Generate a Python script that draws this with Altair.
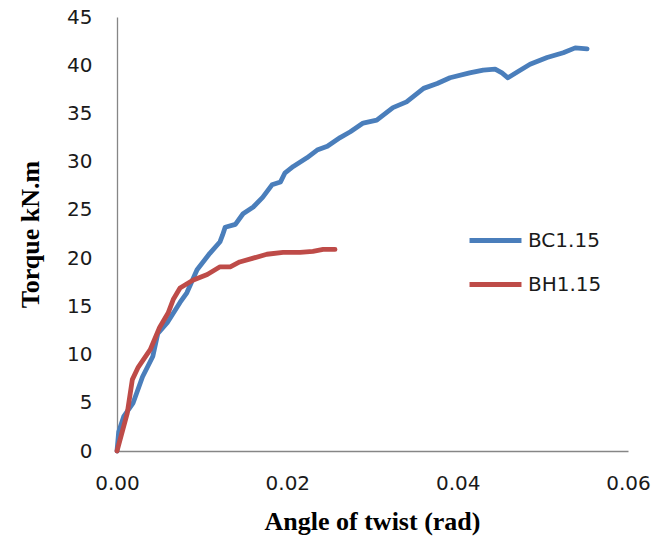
import altair as alt
import pandas as pd

# BC1.15 series (angle of twist in rad, torque in kN.m)
bc_x = [0.0, 0.0002, 0.0008, 0.0019, 0.0030, 0.0042, 0.0048, 0.0059, 0.0074, 0.0082,
        0.0094, 0.0109, 0.0121, 0.0124, 0.0127, 0.0139, 0.0148, 0.0160, 0.0171, 0.0182,
        0.0192, 0.0197, 0.0207, 0.0223, 0.0235, 0.0247, 0.0262, 0.0274, 0.0289, 0.0305,
        0.0324, 0.0340, 0.0360, 0.0376, 0.0391, 0.0414, 0.0430, 0.0444, 0.0452, 0.0459,
        0.0470, 0.0485, 0.0505, 0.0524, 0.0538, 0.0552]
bc_y = [0.0, 2.0, 3.6, 5.0, 7.7, 9.8, 12.2, 13.3, 15.4, 16.4,
        18.8, 20.5, 21.7, 22.4, 23.2, 23.5, 24.6, 25.3, 26.3, 27.6,
        27.9, 28.8, 29.5, 30.4, 31.2, 31.6, 32.5, 33.1, 34.0, 34.3,
        35.6, 36.2, 37.6, 38.1, 38.7, 39.2, 39.5, 39.6, 39.2, 38.7,
        39.3, 40.1, 40.8, 41.3, 41.8, 41.7]

# BH1.15 series
bh_x = [0.0, 0.0012, 0.0018, 0.0025, 0.0039, 0.0050, 0.0060, 0.0066, 0.0074, 0.0089,
        0.0106, 0.0121, 0.0133, 0.0144, 0.0160, 0.0176, 0.0195, 0.0215, 0.0230, 0.0242,
        0.0256]
bh_y = [0.0, 3.9, 7.4, 8.7, 10.5, 12.8, 14.3, 15.7, 16.9, 17.7,
        18.3, 19.1, 19.1, 19.6, 20.0, 20.4, 20.6, 20.6, 20.7, 20.9,
        20.9]

series_names = ["BC1.15", "BH1.15"]
series_colors = ["#4A7EBB", "#BE4B48"]

x_ticks = [0.0, 0.02, 0.04, 0.06]
y_ticks = [0, 5, 10, 15, 20, 25, 30, 35, 40, 45]

rows = []
for i, (a, b) in enumerate(zip(bc_x, bc_y)):
    rows.append({"angle": a, "torque": b, "series": series_names[0], "order": i})
for i, (a, b) in enumerate(zip(bh_x, bh_y)):
    rows.append({"angle": a, "torque": b, "series": series_names[1], "order": i})
df = pd.DataFrame(rows)

chart = alt.Chart(df).mark_line(strokeWidth=4.8, strokeCap="round", strokeJoin="round").encode(
    x=alt.X("angle:Q",
            scale=alt.Scale(domain=[0, 0.06], nice=False),
            axis=alt.Axis(values=x_ticks, format=".2f", title="Angle of twist (rad)",
                          grid=False, ticks=False, labelPadding=22, labelFlush=False,
                          labelOverlap=False,
                          titleX=255, titleY=70, titleBaseline="middle")),
    y=alt.Y("torque:Q",
            scale=alt.Scale(domain=[0, 45], nice=False),
            axis=alt.Axis(values=y_ticks, title="Torque kN.m", grid=False, ticks=False,
                          labelPadding=25, labelFlush=False, labelOverlap=False,
                          titleX=-87, titleY=217, titleBaseline="middle",
                          titleAngle=-90)),
    color=alt.Color("series:N",
                    scale=alt.Scale(domain=series_names, range=series_colors),
                    legend=alt.Legend(title=None, orient="none", legendX=350, legendY=195,
                                      symbolType="stroke", symbolSize=2700,
                                      symbolStrokeWidth=4.8, labelFontSize=20,
                                      labelFont="DejaVu Sans", labelColor="#1a1a1a",
                                      rowPadding=5, labelOffset=4)),
    order="order:Q",
).properties(
    width=511, height=434,
    autosize=alt.AutoSizeParams(type="none"),
    padding={"left": 117, "top": 17, "right": 26, "bottom": 86},
).configure(
    background="white"
).configure_view(
    stroke=None
).configure_axis(
    domainColor="#868686", domainWidth=1.3,
    labelFont="DejaVu Sans", labelFontSize=20, labelColor="#1a1a1a",
    titleFont="Liberation Serif", titleFontSize=26, titleFontWeight="bold", titleColor="#000000",
)

chart.save("out.html", embed_options={"renderer": "svg", "actions": False})
